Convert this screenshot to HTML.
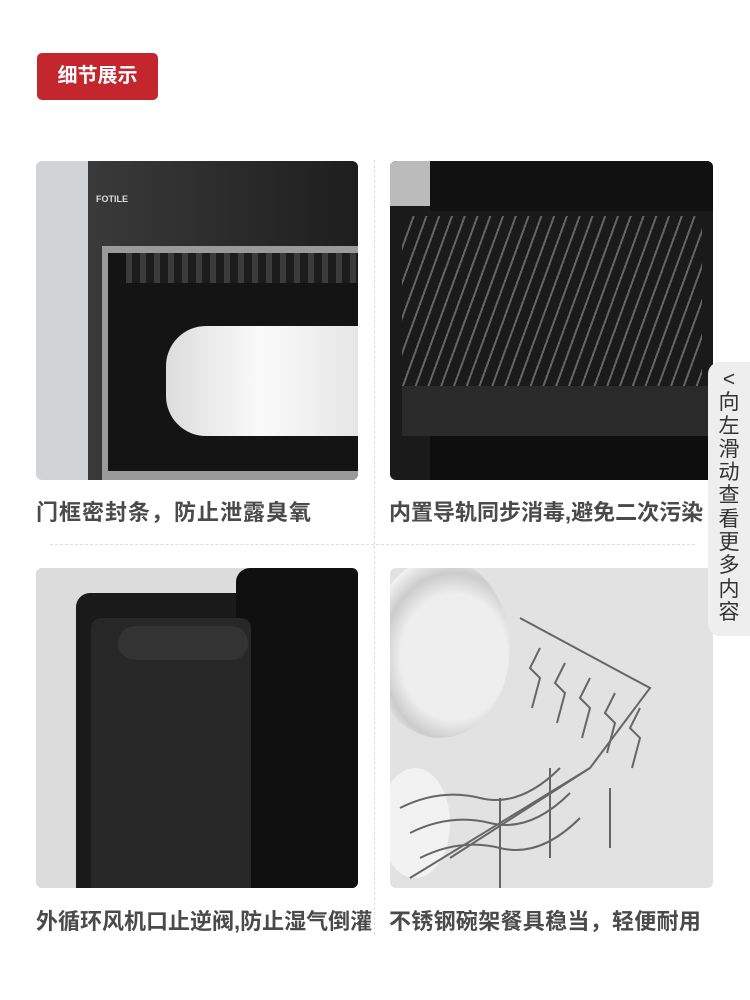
<!DOCTYPE html>
<html><head><meta charset="utf-8"><style>
*{margin:0;padding:0;box-sizing:border-box}
body{width:750px;height:1000px;background:#fff;position:relative;overflow:hidden;font-family:"Liberation Sans","Noto Sans CJK SC",sans-serif}
.abs{position:absolute}
.badge{left:37px;top:53px;width:121px;height:47px;background:#c4262e;border-radius:5px;color:#fff;font-size:20px;font-weight:bold;line-height:47px;text-align:center}
.img{position:absolute;border-radius:6px;overflow:hidden}
.cap{position:absolute;font-size:22px;font-weight:bold;color:#4a4a4a;white-space:nowrap;letter-spacing:1px}
.tab{left:708px;top:362px;width:50px;height:274px;background:#eeeeee;border-radius:12px 0 0 12px;color:#333;font-size:21px;line-height:23.3px;text-align:center;padding-top:6px;padding-right:8px}
</style></head><body>
<div class="abs badge">细节展示</div>

<!-- image 1 -->
<div class="img" style="left:36px;top:161px;width:322px;height:319px;background:#d2d3d5">
 <div class="abs" style="left:52px;top:0;width:270px;height:319px;background:linear-gradient(90deg,#3a3a3a,#1e1e1e)"></div>
 <div class="abs" style="left:66px;top:85px;width:256px;height:234px;background:#9a9a9a"></div>
 <div class="abs" style="left:72px;top:92px;width:250px;height:218px;background:#141414"></div>
 <div class="abs" style="left:130px;top:165px;width:192px;height:110px;background:linear-gradient(90deg,#ddd,#fafafa,#e6e6e6);border-radius:40px 0 0 40px"></div>
 <div class="abs" style="left:90px;top:92px;width:232px;height:30px;background:repeating-linear-gradient(90deg,#555 0 6px,#222 6px 14px);opacity:.6"></div>
 <div class="abs" style="left:60px;top:33px;color:#ddd;font-size:9px;font-weight:bold">FOTILE</div>
</div>

<!-- image 2 -->
<div class="img" style="left:390px;top:161px;width:323px;height:319px;background:#1a1a1a">
 <div class="abs" style="left:0;top:0;width:50px;height:45px;background:#bbb"></div>
 <div class="abs" style="left:40px;top:0;width:283px;height:50px;background:#111"></div>
 <div class="abs" style="left:12px;top:55px;width:300px;height:170px;background:repeating-linear-gradient(110deg,#1a1a1a 0 10px,#777 10px 12px);opacity:.8"></div>
 <div class="abs" style="left:12px;top:225px;width:311px;height:50px;background:#2a2a2a"></div>
 <div class="abs" style="left:40px;top:275px;width:283px;height:44px;background:#0e0e0e"></div>
</div>

<div class="cap" style="left:36px;top:495px">门框密封条，防止泄露臭氧</div>
<div class="cap" style="left:389px;top:495px;letter-spacing:0">内置导轨同步消毒,避免二次污染</div>

<div class="abs" style="left:50px;top:544px;width:645px;border-top:1px dashed #ddd"></div>
<div class="abs" style="left:374px;top:160px;height:775px;border-left:1px dashed #ddd"></div>

<!-- image 3 -->
<div class="img" style="left:36px;top:568px;width:322px;height:320px;background:#dcdcdc">
 <div class="abs" style="left:40px;top:25px;width:282px;height:295px;background:#1a1a1a;border-radius:14px 0 0 0"></div>
 <div class="abs" style="left:200px;top:0;width:122px;height:320px;background:#101010;border-radius:14px 0 0 0"></div>
 <div class="abs" style="left:55px;top:50px;width:160px;height:270px;background:#272727;border-radius:10px 10px 0 0"></div>
 <div class="abs" style="left:82px;top:58px;width:130px;height:34px;background:#333;border-radius:17px"></div>
</div>

<!-- image 4 -->
<div class="img" style="left:390px;top:568px;width:323px;height:320px;background:#e2e2e2">
 <div class="abs" style="left:-20px;top:-10px;width:140px;height:180px;background:radial-gradient(ellipse at 60% 55%,#eee 0 45%,#ccc 60%,#f4f4f4 75%);border-radius:50%"></div>
 <div class="abs" style="left:-10px;top:200px;width:70px;height:110px;background:#f2f2f2;border-radius:50%"></div>
 <svg class="abs" style="left:0;top:0" width="323" height="320" stroke="#666" stroke-width="2" fill="none">
  <polyline points="130,50 260,120 200,200 60,290"/>
  <polyline points="20,310 200,200"/>
  <path d="M150,80 l-10,20 10,10 -8,30 M175,95 l-10,20 10,10 -8,30 M200,110 l-10,20 10,10 -8,30 M225,125 l-10,20 10,10 -8,30 M250,140 l-10,20 10,10 -8,30"/>
  <path d="M10,240 q40,-20 80,-10 t80,-30 M20,265 q40,-20 80,-10 t80,-30 M30,290 q40,-20 80,-10 t80,-30"/>
  <path d="M110,230 l0,90 M160,200 l0,90 M220,220 l0,60"/>
 </svg>
</div>

<div class="cap" style="left:36px;top:904px;letter-spacing:0">外循环风机口止逆阀,防止湿气倒灌</div>
<div class="cap" style="left:389px;top:904px;letter-spacing:0.3px">不锈钢碗架餐具稳当，轻便耐用</div>

<div class="abs tab">&lt;<br>向<br>左<br>滑<br>动<br>查<br>看<br>更<br>多<br>内<br>容</div>
</body></html>
